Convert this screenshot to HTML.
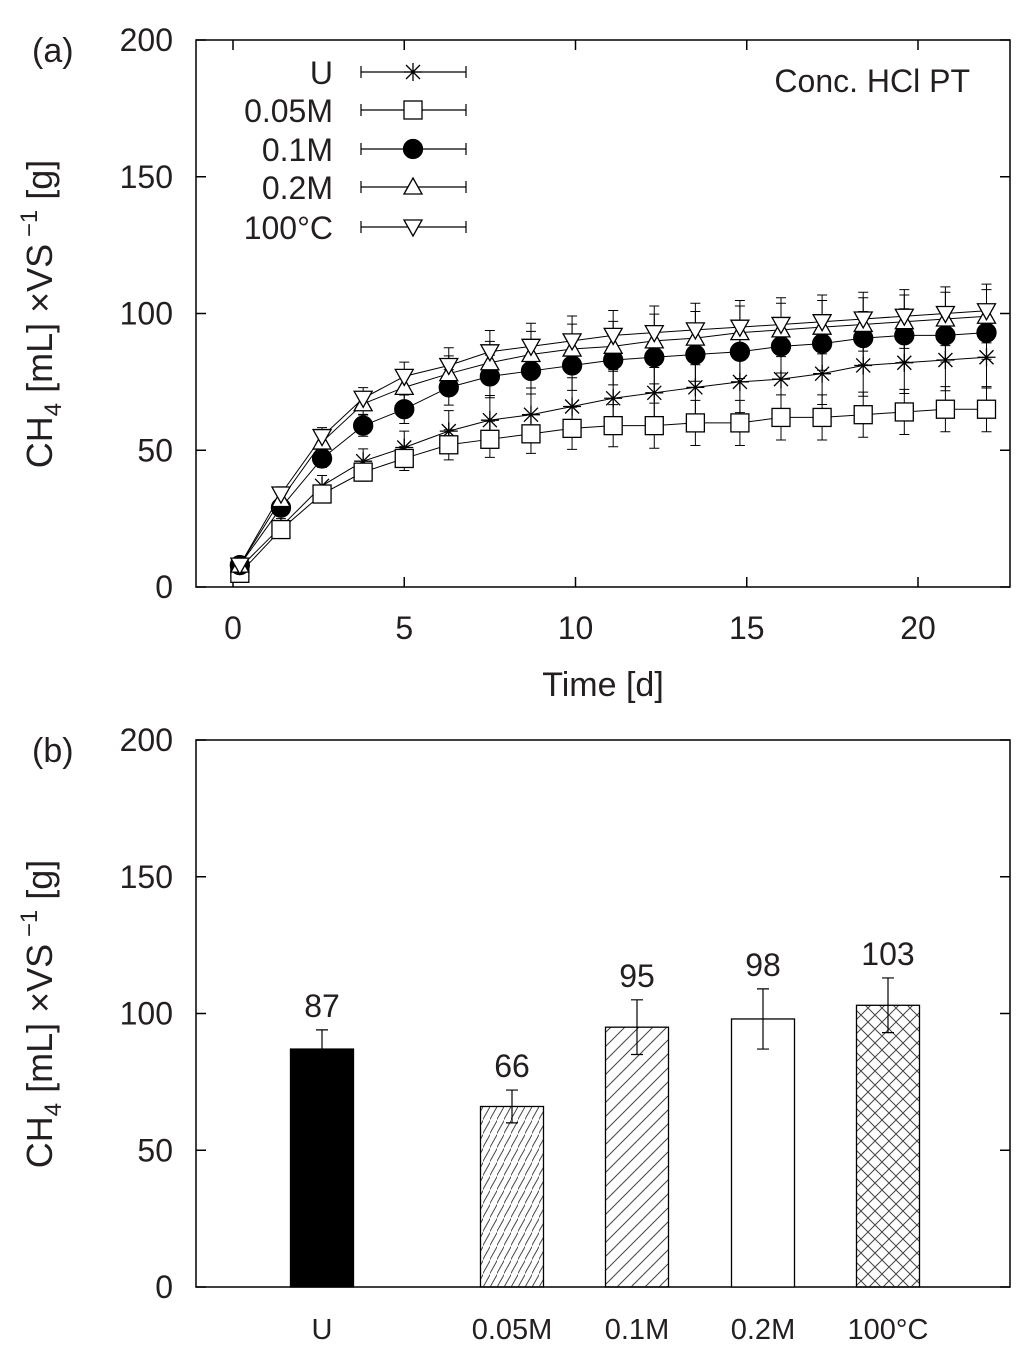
<!DOCTYPE html>
<html><head><meta charset="utf-8"><style>
body{margin:0;background:#fff}
svg text{font-family:"Liberation Sans",sans-serif;fill:#231f20}
</style></head><body>
<svg id="s" width="1024" height="1354" xmlns="http://www.w3.org/2000/svg">
<defs>
<pattern id="h1" patternUnits="userSpaceOnUse" width="7" height="14"><path d="M-1,15 L8,-1" stroke="#444" stroke-width="1"/></pattern>
<pattern id="h2" patternUnits="userSpaceOnUse" width="14" height="14"><path d="M0,14 L14,0 M-7,7 L7,-7 M7,21 L21,7" stroke="#444" stroke-width="1"/></pattern>
<pattern id="h3" patternUnits="userSpaceOnUse" width="14" height="14"><path d="M0,14 L14,0 M0,0 L14,14" stroke="#444" stroke-width="1"/></pattern>
</defs>
</svg>
<script>
const days=[0.2,1.4,2.6,3.8,5.0,6.3,7.5,8.7,9.9,11.1,12.3,13.5,14.8,16.0,17.2,18.4,19.6,20.8,22.0];
const seriesNames=["U","0.05M","0.1M","0.2M","100°C"];
const sU=[7,22,37,46,51,57,61,63,66,69,71,73,75,76,78,81,82,83,84];
const s005=[5,21,34,42,47,52,54,56,58,59,59,60,60,62,62,63,64,65,65];
const s01=[8,29,47,59,65,73,77,79,81,83,84,85,86,88,89,91,92,92,93];
const s02=[8,32,53,67,73,78,82,85,87,88,90,91,93,94,95,96,97,98,99];
const s100=[8,34,55,69,77,81,86,88,90,92,93,94,95,96,97,98,99,100,101];
const errs=[3,4,5,6,8,10,12,13,14,14,15,15,15,15,15,15,15,15,15];
const barCats=["U","0.05M","0.1M","0.2M","100°C"];
const barVals=[87,66,95,98,103];
const barErr=[7,6,10,11,10];
const yTicks=[0,50,100,150,200];
const xTicks=[0,5,10,15,20];

const S=document.getElementById('s'),NS="http://www.w3.org/2000/svg";
function el(t,a,txt){const e=document.createElementNS(NS,t);for(const k in a)e.setAttribute(k,a[k]);if(txt!==undefined)e.textContent=txt;S.appendChild(e);return e;}
const L=196,R=1010;
const xA=d=>233+d*34.25;
const yA=v=>587-v*2.735;
const yB=v=>1287-v*2.735;

for(const [top,yf,nm] of [[40,yA,'a'],[740,yB,'b']]){
 let f=el('rect',{x:L,y:top,width:R-L,height:547,fill:'none',stroke:'#000','stroke-width':1.5});
 
 yTicks.forEach(v=>{const y=yf(v);
  el('line',{x1:L,x2:L+10,y1:y,y2:y,stroke:'#000','stroke-width':1.5});
  el('line',{x1:R,x2:R-10,y1:y,y2:y,stroke:'#000','stroke-width':1.5});
  let t=el('text',{x:173,y:y+11,'font-size':32,'text-anchor':'end'},v);
  });
 let p=el('text',{x:32,y:top+22,'font-size':34},'('+nm+')');
 
 let yt=el('text',{transform:`translate(52,${top+274}) rotate(-90)`,'font-size':36,'text-anchor':'middle'});
 yt.innerHTML='CH<tspan font-size="24" dy="9">4</tspan><tspan dy="-9"> [mL] ×VS</tspan><tspan font-size="24" dy="-15"> −1</tspan><tspan dy="15"> [g]</tspan>';
 
}
xTicks.forEach(v=>{const x=xA(v);
 el('line',{x1:x,x2:x,y1:587,y2:577,stroke:'#000','stroke-width':1.5});
 el('line',{x1:x,x2:x,y1:40,y2:50,stroke:'#000','stroke-width':1.5});
 let t=el('text',{x:x,y:639,'font-size':32,'text-anchor':'middle'},v);
 });
let xt=el('text',{x:603,y:696,'font-size':34,'text-anchor':'middle'},'Time [d]');

let an=el('text',{x:970,y:92,'font-size':32,'text-anchor':'end'},'Conc. HCl PT');


function marker(k,x,y){
 const st={stroke:'#000','stroke-width':1.3};
 if(k==0){el('path',Object.assign({d:`M${x-9},${y}H${x+9}M${x},${y-9}V${y+9}M${x-7},${y-7}L${x+7},${y+7}M${x-7},${y+7}L${x+7},${y-7}`,fill:'none'},st));}
 else if(k==1)el('rect',Object.assign({x:x-9,y:y-9,width:18,height:18,fill:'#fff'},st));
 else if(k==2)el('circle',Object.assign({cx:x,cy:y,r:9.5,fill:'#000'},st));
 else if(k==3)el('path',Object.assign({d:`M${x},${y-9}L${x+9},${y+7}L${x-9},${y+7}Z`,fill:'#fff'},st));
 else el('path',Object.assign({d:`M${x},${y+9}L${x+9},${y-7}L${x-9},${y-7}Z`,fill:'#fff'},st));
}
const all=[sU,s005,s01,s02,s100];
all.forEach((s,k)=>{
 let pl=el('polyline',{points:s.map((v,i)=>xA(days[i])+','+yA(v)).join(' '),fill:'none',stroke:'#000','stroke-width':1});
 
 s.forEach((v,i)=>{const x=xA(days[i]),e=errs[i]*(k==1?0.55:k==0?0.75:0.65);
  el('path',{d:`M${x},${yA(v-e)}V${yA(v+e)}M${x-5},${yA(v-e)}H${x+5}M${x-5},${yA(v+e)}H${x+5}`,stroke:'#000','stroke-width':1,fill:'none'});});
});
all.forEach((s,k)=>s.forEach((v,i)=>marker(k,xA(days[i]),yA(v))));
const ly=[72,110,149,187,227];
seriesNames.forEach((n,k)=>{
 let t=el('text',{x:333,y:ly[k]+12,'font-size':32,'text-anchor':'end'},n);
 
 el('path',{d:`M361,${ly[k]}H466M361,${ly[k]-6}V${ly[k]+6}M466,${ly[k]-6}V${ly[k]+6}`,stroke:'#000','stroke-width':1.2,fill:'none'});
 marker(k,413,ly[k]);
});
const bx=[322,512,637,763,888];
const fills=['#000','url(#h1)','url(#h2)','#fff','url(#h3)'];
barVals.forEach((v,i)=>{
 let b=el('rect',{x:bx[i]-31.5,y:yB(v),width:63,height:yB(0)-yB(v),fill:fills[i],stroke:'#000','stroke-width':1.3});
 
 const e=barErr[i],x=bx[i];
 el('path',{d:`M${x},${yB(v-e)}V${yB(v+e)}M${x-6},${yB(v-e)}H${x+6}M${x-6},${yB(v+e)}H${x+6}`,stroke:'#000','stroke-width':1.2,fill:'none'});
 let t=el('text',{x:x,y:yB(v+e)-13,'font-size':32,'text-anchor':'middle'},v);
 
 let c=el('text',{x:x,y:1339,'font-size':29,'text-anchor':'middle'},barCats[i]);
 
});
</script>
</body></html>
